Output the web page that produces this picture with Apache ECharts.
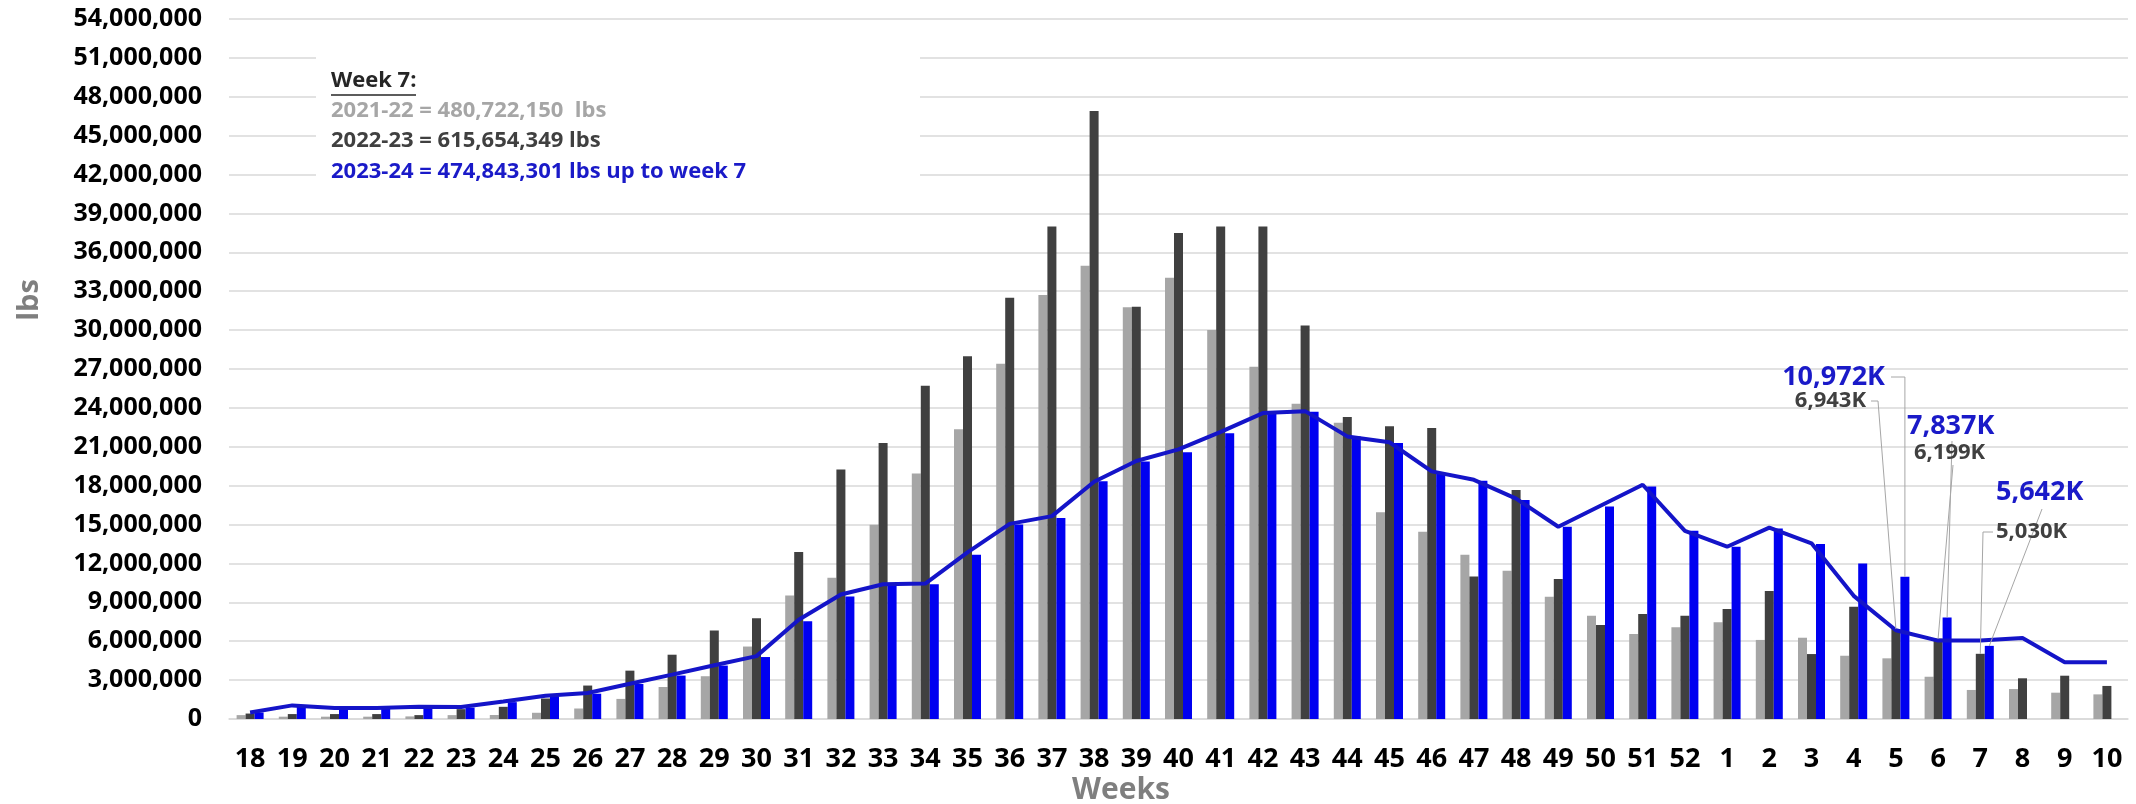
<!DOCTYPE html>
<html><head><meta charset="utf-8">
<script src="https://cdn.jsdelivr.net/npm/echarts@6/dist/echarts.min.js"></script>
<style>html,body{margin:0;padding:0;background:#fff}#c{width:2136px;height:804px}</style>
</head><body><div id="c"></div>
<script>
// ---------------- data ----------------
const weeks = ['18','19','20','21','22','23','24','25','26','27','28','29','30','31','32','33','34','35','36','37','38','39','40','41','42','43','44','45','46','47','48','49','50','51','52','1','2','3','4','5','6','7','8','9','10'];
const lbs2021_22 = [300000,180000,180000,180000,200000,300000,310000,480000,810000,1550000,2470000,3300000,5590000,9530000,10900000,14990000,18930000,22350000,27400000,32700000,34970000,31770000,34040000,30000000,27170000,24310000,22850000,15950000,14450000,12670000,11440000,9430000,7970000,6560000,7070000,7460000,6100000,6270000,4880000,4680000,3260000,2240000,2310000,2030000,1900000];
const lbs2022_23 = [420000,380000,380000,380000,300000,760000,940000,1580000,2580000,3730000,4960000,6820000,7780000,12880000,19240000,21300000,25700000,27990000,32500000,38000000,46900000,31800000,37500000,38000000,38000000,30350000,23300000,22580000,22440000,11000000,17660000,10800000,7250000,8100000,7970000,8480000,9870000,5010000,8660000,6943000,6199000,5030000,3140000,3340000,2550000];
const lbs2023_24 = [500000,1000000,800000,850000,950000,880000,1300000,1750000,1950000,2700000,3350000,4120000,4780000,7550000,9450000,10380000,10400000,12670000,15000000,15500000,18340000,19870000,20580000,22040000,23600000,23700000,21800000,21300000,19000000,18380000,16890000,14830000,16400000,17940000,14520000,13290000,14700000,13500000,12000000,10972000,7837000,5642000,null,null,null];
const lbsLine = [500000,1050000,850000,850000,950000,920000,1350000,1800000,2000000,2720000,3420000,4150000,4850000,7650000,9600000,10400000,10450000,12850000,15050000,15650000,18300000,19900000,20800000,22150000,23600000,23750000,21800000,21350000,19100000,18450000,17000000,14830000,16450000,18070000,14520000,13290000,14760000,13550000,9500000,6850000,6050000,6050000,6250000,4370000,4370000];
const yMin = 0, yMax = 54000000, yInterval = 3000000;
const noteTitle = 'Week 7:';
const noteLines = ['2021-22 = 480,722,150  lbs', '2022-23 = 615,654,349 lbs', '2023-24 = 474,843,301 lbs up to week 7'];
const calloutWeeks = ['5','6','7'];

// ---------------- style ----------------
const FONT = "'Open Sans', 'DejaVu Sans', sans-serif";
const C_GRAY = '#a6a6a6', C_DARK = '#404040', C_BLUE = '#0000f0', C_LINE = '#1414c8', C_TXTBLUE = '#1a1ac8';
const BAR_W = 9;

const chart = echarts.init(document.getElementById('c'), null, {renderer: 'canvas'});
const fmt = v => Number(v).toLocaleString('en-US');

chart.setOption({
  animation: false,
  backgroundColor: '#fff',
  grid: {left: 229, right: 8, top: 19, bottom: 85, containLabel: false},
  xAxis: {
    type: 'category', data: weeks,
    axisTick: {show: false},
    axisLine: {lineStyle: {color: '#d9d9d9', width: 1.5}},
    axisLabel: {interval: 0, margin: 27, color: '#000', fontFamily: FONT, fontWeight: 'bold', fontSize: 27}
  },
  yAxis: {
    type: 'value', min: yMin, max: yMax, interval: yInterval,
    axisLine: {show: false}, axisTick: {show: false},
    splitLine: {lineStyle: {color: '#d9d9d9', width: 1.5}},
    axisLabel: {margin: 27, color: '#000', fontFamily: FONT, fontWeight: 'bold', fontSize: 25, formatter: fmt}
  },
  series: [
    {name: '2021-22', type: 'bar', data: lbs2021_22, barWidth: BAR_W, barGap: '0%', itemStyle: {color: C_GRAY}},
    {name: '2022-23', type: 'bar', data: lbs2022_23, barWidth: BAR_W, barGap: '0%', itemStyle: {color: C_DARK}},
    {name: '2023-24', type: 'bar', data: lbs2023_24, barWidth: BAR_W, barGap: '0%', itemStyle: {color: C_BLUE}},
    {name: 'avg', type: 'line', data: lbsLine, symbol: 'none', z: 5, lineStyle: {color: C_LINE, width: 4}}
  ]
});

// ---------------- annotations ----------------
function barTop(seriesArr, week, off) {
  const i = weeks.indexOf(week);
  const x = chart.convertToPixel({xAxisIndex: 0}, i) + off * BAR_W;
  const y = chart.convertToPixel({yAxisIndex: 0}, seriesArr[i]);
  return [x, y];
}
const kfmt = v => Math.round(v / 1000).toLocaleString('en-US') + 'K';

const g = [];
// white box behind the note
g.push({type: 'rect', z: 1, shape: {x: 316, y: 32, width: 604, height: 166}, style: {fill: '#fff'}});
g.push({type: 'text', z: 10, x: 331, y: 81, style: {text: noteTitle, fill: '#262626', font: `bold 22px ${FONT}`, verticalAlign: 'middle'}});
g.push({type: 'line', z: 10, shape: {x1: 331, y1: 95, x2: 416, y2: 95}, style: {stroke: '#262626', lineWidth: 1.5}});
const noteColors = [C_GRAY, C_DARK, C_TXTBLUE];
const noteY = [111, 141, 172];
noteLines.forEach((t, k) => g.push({type: 'text', z: 10, x: 331, y: noteY[k], style: {text: t, fill: noteColors[k], font: `bold 22px ${FONT}`, verticalAlign: 'middle'}}));

// axis titles
g.push({type: 'text', z: 10, x: 30, y: 300, rotation: Math.PI / 2, style: {text: 'lbs', fill: '#7f7f7f', font: `bold 29px ${FONT}`, align: 'center', verticalAlign: 'middle'}});
g.push({type: 'text', z: 10, x: 1121, y: 790, style: {text: 'Weeks', fill: '#7f7f7f', font: `bold 30px ${FONT}`, align: 'center', verticalAlign: 'middle'}});

// callouts
const callouts = [
  {arr: lbs2023_24, week: calloutWeeks[0], off: 1, color: C_TXTBLUE, size: 27, lx: 1885, ly: 377, align: 'right', lead: [[1891, 377], [null, 377]]},
  {arr: lbs2022_23, week: calloutWeeks[0], off: 0, color: C_DARK, size: 22, lx: 1866, ly: 401, align: 'right', lead: [[1871, 401], [1878, 401]]},
  {arr: lbs2023_24, week: calloutWeeks[1], off: 1, color: C_TXTBLUE, size: 27, lx: 1907, ly: 426, align: 'left', lead: [[1952, 441]]},
  {arr: lbs2022_23, week: calloutWeeks[1], off: 0, color: C_DARK, size: 22, lx: 1914, ly: 453, align: 'left', lead: [[1953, 465]]},
  {arr: lbs2023_24, week: calloutWeeks[2], off: 1, color: C_TXTBLUE, size: 27, lx: 1996, ly: 492, align: 'left', lead: [[2042, 509]]},
  {arr: lbs2022_23, week: calloutWeeks[2], off: 0, color: C_DARK, size: 22, lx: 1996, ly: 532, align: 'left', lead: [[1993, 532], [1983, 532]]}
];
callouts.forEach(c => {
  const top = barTop(c.arr, c.week, c.off);
  const pts = c.lead.map(p => [p[0] === null ? top[0] : p[0], p[1]]);
  pts.push(top);
  g.push({type: 'polyline', z: 9, shape: {points: pts}, style: {stroke: '#a6a6a6', lineWidth: 1, fill: null}});
  g.push({type: 'text', z: 10, x: c.lx, y: c.ly, style: {text: kfmt(c.arr[weeks.indexOf(c.week)]), fill: c.color, font: `bold ${c.size}px ${FONT}`, align: c.align, verticalAlign: 'middle'}});
});

chart.setOption({graphic: g});
</script>
</body></html>
